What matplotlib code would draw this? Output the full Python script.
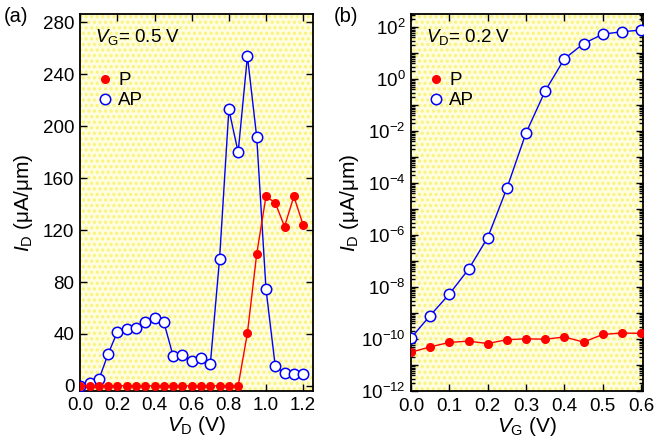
import matplotlib
matplotlib.use("Agg")
import matplotlib.pyplot as plt
from matplotlib.lines import Line2D
from matplotlib.ticker import MultipleLocator, LogLocator, FixedLocator, NullFormatter
import numpy as np

plt.rcParams['font.family'] = ['Liberation Sans', 'DejaVu Sans']
plt.rcParams['mathtext.fontset'] = 'custom'
plt.rcParams['mathtext.rm'] = 'Liberation Sans'
plt.rcParams['mathtext.it'] = 'Liberation Sans:italic'
plt.rcParams['hatch.linewidth'] = 1.5

# panel (a): output characteristic at V_G = 0.5 V
vd = [0.0, 0.05, 0.1, 0.15, 0.2, 0.25, 0.3, 0.35, 0.4, 0.45, 0.5, 0.55, 0.6,
      0.65, 0.7, 0.75, 0.8, 0.85, 0.9, 0.95, 1.0, 1.05, 1.1, 1.15, 1.2]
id_p_a = [0, 0, 0, 0, 0, 0, 0, 0, 0, 0, 0, 0, 0,
          0, 0, 0, 0, 0, 40.7, 101.6, 146, 141, 122.7, 146, 124]
id_ap_a = [0, 2, 5, 24.7, 41.7, 43.5, 44.8, 48.9, 52.5, 48.9, 22.9, 23.7, 19,
           21.6, 16.5, 98, 213, 180, 254, 191.7, 74.6, 15, 9.8, 9, 9.3]

# panel (b): transfer characteristic at V_D = 0.2 V
vg = [0.0, 0.05, 0.1, 0.15, 0.2, 0.25, 0.3, 0.35, 0.4, 0.45, 0.5, 0.55, 0.6]
id_p_b = [3.1e-11, 5e-11, 7.4e-11, 8.3e-11, 6.7e-11, 9.4e-11, 1.02e-10,
          9.8e-11, 1.2e-10, 7.6e-11, 1.5e-10, 1.7e-10, 1.65e-10]
id_ap_b = [1.1e-10, 8e-10, 5.4e-9, 4.8e-8, 8e-7, 6.3e-5, 8.5e-3,
           0.35, 6, 23, 53, 66, 76]

red = '#ff0000'
blue = '#0000ff'

fig = plt.figure(figsize=(6.55, 4.45), dpi=100)
ax1 = fig.add_axes([0.1221, 0.1213, 0.3557, 0.8472])
ax2 = fig.add_axes([0.6275, 0.1213, 0.3542, 0.8472])

for ax in (ax1, ax2):
    ax.set_facecolor('#fffde0')
    ax.patch.set_edgecolor('#faf37a')
    ax.patch.set_linewidth(0)
    ax.patch.set_hatch('...')
    ax.tick_params(which='both', direction='in', top=True, right=True,
                   labelsize=13.5, width=1)
    ax.tick_params(which='major', length=5, pad=4)
    ax.tick_params(which='minor', length=3)
    for s in ax.spines.values():
        s.set_linewidth(1.3)

# legend markers only, no line
leg_h = [Line2D([], [], ls='none', marker='o', mfc=red, mec=red, ms=5.5),
         Line2D([], [], ls='none', marker='o', mfc='white', mec=blue, ms=7.5, mew=1.1)]
leg_l = ['P', 'AP']

# (a)
ax1.plot(vd, id_ap_a, '-o', color=blue, mfc='white', mec=blue, ms=7.5,
         mew=1.1, lw=1, zorder=3)
ax1.plot(vd, id_p_a, '-o', color=red, mfc=red, mec=red, ms=5.5,
         lw=1, zorder=4)
ax1.set_xlim(-0.002, 1.253)
ax1.set_ylim(-4, 286.5)
ax1.xaxis.set_major_locator(MultipleLocator(0.2))
ax1.yaxis.set_major_locator(MultipleLocator(40))
ax1.set_xticklabels(['%.1f' % t for t in ax1.get_xticks()])
ax1.set_xlabel(r'$V_\mathrm{D}$ (V)', fontsize=15, labelpad=0)
ax1.set_ylabel(r'$I_\mathrm{D}$ (μA/μm)', fontsize=15, labelpad=6)
ax1.text(0.065, 0.925, r'$V_\mathrm{G}$= 0.5 V', transform=ax1.transAxes,
         fontsize=13.5)
ax1.legend(leg_h, leg_l, loc='upper left', bbox_to_anchor=(0.02, 0.885),
           frameon=False, fontsize=13.5, handlelength=0.6, handletextpad=0.4,
           labelspacing=0.15, borderpad=0.3)
fig.text(0.005, 0.95, '(a)', fontsize=14.5)

# (b)
ax2.semilogy(vg, id_ap_b, '-o', color=blue, mfc='white', mec=blue, ms=7.5,
             mew=1.1, lw=1, zorder=3)
ax2.semilogy(vg, id_p_b, '-o', color=red, mfc=red, mec=red, ms=5.5,
             lw=1, zorder=4)
ax2.set_xlim(0, 0.605)
ax2.set_ylim(1e-12, 10 ** 2.5)
ax2.xaxis.set_major_locator(MultipleLocator(0.1))
ax2.set_xticklabels(['0'] + ['%.1f' % t for t in ax2.get_xticks()[1:]])
dec = list(range(-12, 3))
ax2.yaxis.set_major_locator(FixedLocator([10.0 ** d for d in dec]))
ax2.set_yticklabels(['$10^{%d}$' % d if d % 2 == 0 else '' for d in dec])
ax2.yaxis.set_minor_locator(LogLocator(base=10, subs=np.arange(2, 10), numticks=30))
ax2.yaxis.set_minor_formatter(NullFormatter())
ax2.tick_params(axis='x', pad=5)
ax2.set_xlabel(r'$V_\mathrm{G}$ (V)', fontsize=15, labelpad=0)
ax2.set_ylabel(r'$I_\mathrm{D}$ (μA/μm)', fontsize=15, labelpad=0)
ax2.text(0.065, 0.925, r'$V_\mathrm{D}$= 0.2 V', transform=ax2.transAxes,
         fontsize=13.5)
ax2.legend(leg_h, leg_l, loc='upper left', bbox_to_anchor=(0.02, 0.885),
           frameon=False, fontsize=13.5, handlelength=0.6, handletextpad=0.4,
           labelspacing=0.15, borderpad=0.3)
fig.text(0.51, 0.95, '(b)', fontsize=14.5)

fig.savefig('out.png', dpi=100)
